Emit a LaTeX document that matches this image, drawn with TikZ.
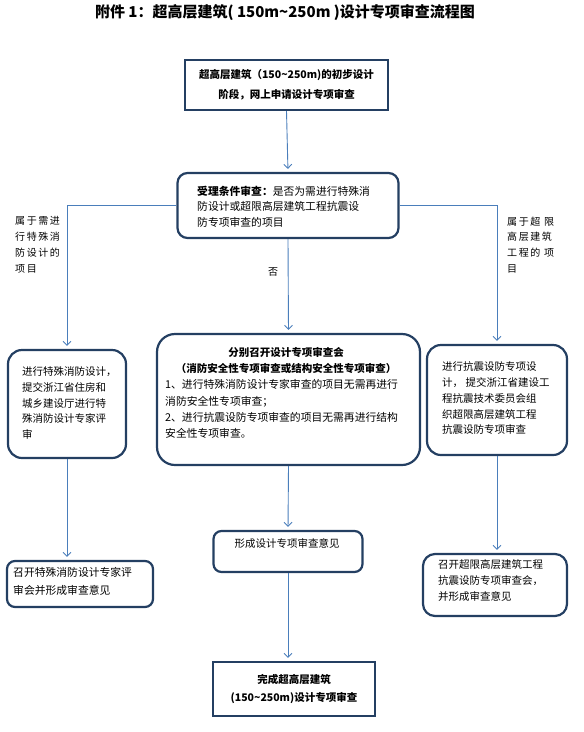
\documentclass[tikz,border=0pt]{standalone}
\usepackage{fontspec}
\setmainfont{Noto Sans CJK SC}
\usetikzlibrary{arrows.meta}
\definecolor{navy}{HTML}{243F62}
\definecolor{lineblue}{HTML}{4A7EBB}
\begin{document}
\begin{tikzpicture}[x=1pt,y=-1pt,
  bx/.style={draw=navy, line width=2.2pt, inner sep=0pt, fill=white},
  txt/.style={inner sep=0pt, align=left, anchor=north west, font=\fontsize{10.5}{15.8}\selectfont},
  lbl/.style={inner sep=0pt, align=left, anchor=north west, font=\fontsize{10}{15.8}\selectfont\addfontfeature{LetterSpace=16}},
  conn/.style={draw=lineblue, line width=0.9pt, -{Straight Barb[length=4pt,width=8pt]}, shorten >=3pt}]
\useasboundingbox (0,0) rectangle (584,732);

% title
\node[inner sep=0pt, font=\fontsize{15}{18}\selectfont\bfseries] (title) at (285,13)
  {附件 1：超高层建筑( 150m\textasciitilde250m )设计专项审查流程图};

% boxes
\node[bx, minimum width=203, minimum height=50, align=center,
      font=\fontsize{10.5}{20}\selectfont\bfseries] (b1) at (286.5,85)
  {超高层建筑（150\textasciitilde250m)的初步设计\\阶段，网上申请设计专项审查};
\node[bx, rounded corners=10pt, minimum width=221, minimum height=65] (b2) at (288,205.5) {};
\node[bx, rounded corners=18pt, minimum width=263, minimum height=131] (bm) at (288.5,399.5) {};
\node[bx, rounded corners=14pt, minimum width=118, minimum height=108] (bl) at (67,404) {};
\node[bx, rounded corners=14pt, minimum width=140, minimum height=110] (br) at (497,400) {};
\node[bx, rounded corners=8pt, minimum width=146, minimum height=46] (bbl) at (80,584) {};
\node[bx, rounded corners=12pt, minimum width=144, minimum height=62] (bbr) at (495,585) {};
\node[bx, rounded corners=8pt, minimum width=149, minimum height=41] (m2) at (288,551.5) {};
\node[bx, minimum width=162, minimum height=54, align=center,
      font=\fontsize{10.5}{18}\selectfont\bfseries] (fin) at (294,689)
  {完成超高层建筑\\(150\textasciitilde250m)设计专项审查};

% texts
\node[txt, font=\fontsize{10.8}{15.8}\selectfont] (t2) at (197,185.5)
  {\textbf{受理条件审查：}是否为需进行特殊消\\防设计或超限高层建筑工程抗震设\\防专项审查的项目};
\node[inner sep=0pt, align=center, font=\fontsize{10.5}{16}\selectfont\bfseries] (tma) at (286,360)
  {分别召开设计专项审查会\\（消防安全性专项审查或结构安全性专项审查）};
\node[txt, font=\fontsize{10.8}{16.3}\selectfont] (tmb) at (165,379.5)
  {1、进行特殊消防设计专家审查的项目无需再进行\\消防安全性专项审查；\\2、进行抗震设防专项审查的项目无需再进行结构\\安全性专项审查。};
\node[txt] (tl) at (22,366.5)
  {进行特殊消防设计，\\提交浙江省住房和\\城乡建设厅进行特\\殊消防设计专家评\\审};
\node[txt] (tr) at (442,361.5)
  {进行抗震设防专项设\\计，~提交浙江省建设工\\程抗震技术委员会组\\织超限高层建筑工程\\抗震设防专项审查};
\node[txt, font=\fontsize{10.8}{18}\selectfont] (tbl) at (13,567.5)
  {召开特殊消防设计专家评\\审会并形成审查意见};
\node[txt, font=\fontsize{10.5}{16}\selectfont] (tbr) at (438,559.5)
  {召开超限高层建筑工程\\抗震设防专项审查会，\\并形成审查意见};
\node[inner sep=0pt, font=\fontsize{10.5}{14}\selectfont] (tm2) at (287,543)
  {形成设计专项审查意见};

% side labels
\node[lbl] (ll) at (15,216.5)
  {属于需进\\行特殊消\\防设计的\\项目};
\node[lbl] (rl) at (507,216.5)
  {属于超 限\\高层建筑\\工程的 项\\目};
\node[inner sep=0pt, font=\fontsize{10}{12}\selectfont] (no) at (273,272) {否};

% connectors
\draw[conn] (b1.south) -- (b2.north);
\draw[conn] (b2.west) -| (bl.north);
\draw[conn] (b2.east) -| (br.north);
\draw[conn] (b2.south) -- (bm.north);
\draw[conn] (bl.south) -- (bl.south |- bbl.north);
\draw[conn] (br.south) -- (br.south |- bbr.north);
\draw[conn] (bm.south) -- (m2.north);
\draw[conn] (m2.south) -- (m2.south |- fin.north);
\end{tikzpicture}
\end{document}
